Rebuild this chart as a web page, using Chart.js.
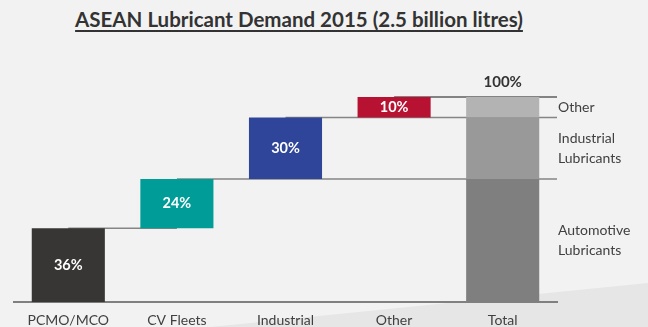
<!DOCTYPE html>
<html>
<head>
<meta charset="utf-8">
<script src="https://cdn.jsdelivr.net/npm/chart.js@4.4.0/dist/chart.umd.min.js"></script>
<style>
  html, body { margin: 0; padding: 0; width: 648px; height: 327px; overflow: hidden; background: #f2f2f2; font-family: Lato, "Open Sans", sans-serif; }
  #deco { position: absolute; left: 0; top: 0; width: 648px; height: 327px; background: #e6e6e6;
          clip-path: polygon(210px 327px, 648px 283px, 648px 327px); }
  #title { position: absolute; left: 0; width: 598px; top: 7px; line-height: 1.2; text-align: center; font-size: 20.5px; font-weight: bold; color: #333333; text-decoration: underline; text-underline-offset: 3px; text-decoration-thickness: 2px; }
  #wrap { position: absolute; left: 0; top: 0; width: 648px; height: 341px; }
</style>
</head>
<body>
<div id="deco"></div>
<div id="title">ASEAN Lubricant Demand 2015 (2.5 billion litres)</div>
<div id="wrap"><canvas id="c"></canvas></div>
<script>
// ---- data ----
const categories = ["PCMO/MCO", "CV Fleets", "Industrial", "Other", "Total"];
const shares = [36, 24, 30, 10];                 // % of total demand
const shareColors = ["#383634", "#009c98", "#2f4599", "#b81233"];
const totalGroups = ["Automotive\nLubricants", "Industrial\nLubricants", "Other"];
const totalGroupValues = [60, 30, 10];          // Automotive = PCMO/MCO + CV Fleets
const totalGroupColors = ["#7f7f7f", "#999999", "#b3b3b3"];
const totalLabel = "100%";

// build floating ranges
const ranges = [];
let cum = 0;
shares.forEach(v => { ranges.push([cum, cum + v]); cum += v; });
const waterfallData = ranges.concat([null]);

const totalDatasets = [];
let tc = 0;
totalGroupValues.forEach((v, i) => {
  const d = categories.map(() => null);
  d[categories.length - 1] = [tc, tc + v];
  tc += v;
  totalDatasets.push({
    label: totalGroups[i], data: d, backgroundColor: totalGroupColors[i],
    grouped: false, barPercentage: 0.673, categoryPercentage: 1
  });
});

const FONT = "Lato, 'Open Sans', sans-serif";

const overlay = {
  id: 'overlay',
  beforeDatasetsDraw(chart) {
    const ctx = chart.ctx, y = chart.scales.y, area = chart.chartArea;
    const meta = chart.getDatasetMeta(0);
    ctx.save();
    ctx.lineWidth = 1.5;
    ranges.forEach((r, i) => {
      const yy = y.getPixelForValue(r[1]);
      const x0 = meta.data[i].x;
      const x1 = (i === 0) ? meta.data[1].x : area.right;
      ctx.strokeStyle = (i === ranges.length - 1) ? '#5e5e5e' : '#858585';
      ctx.beginPath(); ctx.moveTo(x0, yy); ctx.lineTo(x1, yy); ctx.stroke();
    });
    ctx.restore();
  },
  afterDatasetsDraw(chart) {
    const ctx = chart.ctx, y = chart.scales.y, area = chart.chartArea;
    const meta = chart.getDatasetMeta(0);
    ctx.save();
    ctx.textAlign = 'center'; ctx.textBaseline = 'middle';
    ctx.font = "bold 14.5px " + FONT;
    ctx.fillStyle = '#ffffff';
    ranges.forEach((r, i) => {
      const el = meta.data[i];
      ctx.fillText(shares[i] + '%', el.x, (el.y + el.base) / 2);
    });
    // total label
    const tMeta = chart.getDatasetMeta(3);
    const tEl = tMeta.data[categories.length - 1];
    ctx.font = "bold 15px " + FONT;
    ctx.fillStyle = '#333333';
    ctx.fillText(totalLabel, tEl.x, tEl.y - 15);
    // right-side group labels
    ctx.textAlign = 'left';
    ctx.font = "14px " + FONT;
    ctx.fillStyle = '#404040';
    let c = 0;
    totalGroupValues.forEach((v, i) => {
      const mid = y.getPixelForValue(c + v / 2);
      c += v;
      const lines = totalGroups[i].split('\n');
      const lh = 20;
      lines.forEach((ln, k) => {
        ctx.fillText(ln, area.right + 1, mid + (k - (lines.length - 1) / 2) * lh);
      });
    });
    ctx.restore();
  }
};

new Chart(document.getElementById('c'), {
  type: 'bar',
  data: {
    labels: categories,
    datasets: [{
      label: 'Share', data: waterfallData, backgroundColor: shareColors,
      grouped: false, barPercentage: 0.673, categoryPercentage: 1
    }].concat(totalDatasets)
  },
  options: {
    responsive: true, maintainAspectRatio: false, animation: false,
    layout: { padding: { top: 97, left: 14, right: 91, bottom: 2 } },
    plugins: { legend: { display: false }, tooltip: { enabled: false }, title: { display: false } },
    scales: {
      x: {
        grid: { display: false, drawTicks: false },
        border: { display: true, color: '#808080', width: 2 },
        ticks: { color: '#404040', font: { family: FONT, size: 14 }, padding: 10, maxRotation: 0 }
      },
      y: { display: false, min: 0, max: 100 }
    }
  },
  plugins: [overlay]
});
</script>
</body>
</html>
